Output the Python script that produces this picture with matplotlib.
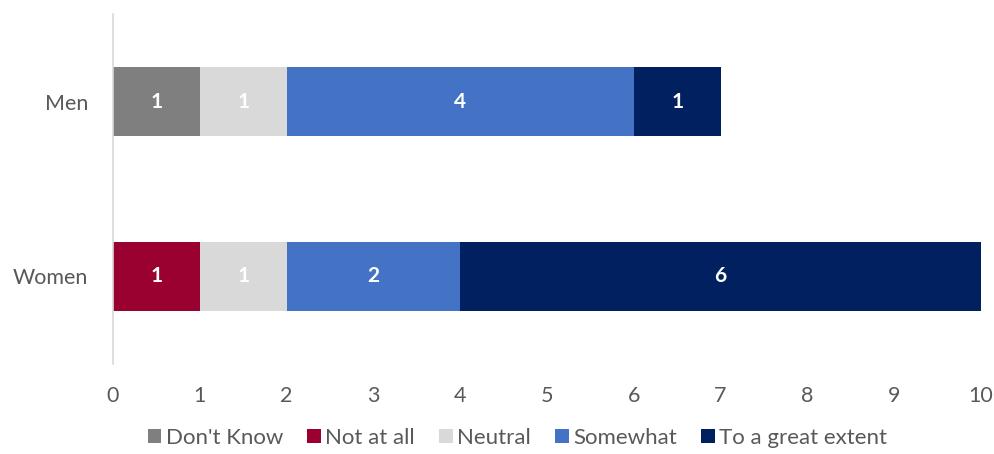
import matplotlib
matplotlib.use("Agg")
import matplotlib.pyplot as plt
import numpy as np

plt.rcParams['font.family'] = ['Lato', 'DejaVu Sans']

categories = ["Men", "Women"]
series = ["Don't Know", "Not at all", "Neutral", "Somewhat", "To a great extent"]
values = {
    "Don't Know": [1, 0],
    "Not at all": [0, 1],
    "Neutral": [1, 1],
    "Somewhat": [4, 2],
    "To a great extent": [1, 6],
}
colors = {
    "Don't Know": "#7F7F7F",
    "Not at all": "#9A0030",
    "Neutral": "#D9D9D9",
    "Somewhat": "#4472C4",
    "To a great extent": "#002060",
}
xticks = list(range(0, 11))

fig = plt.figure(figsize=(9.95, 4.54), dpi=100)
ax = fig.add_axes([113/995, 1-364/454, (981-113)/995, (364-14)/454])

y = np.arange(len(categories))
left = np.zeros(len(categories))
for s in series:
    v = np.array(values[s], dtype=float)
    ax.barh(y, v, left=left, height=0.394, color=colors[s], label=s, zorder=2)
    for i, val in enumerate(v):
        if val > 0:
            ax.text(left[i] + val/2, y[i], f"{int(val)}", ha='center', va='center',
                    color='white', fontsize=15, fontweight='bold', zorder=3)
    left += v

ax.set_ylim(1.5, -0.5)
ax.set_xlim(0, 10)
ax.set_yticks(y)
ax.set_yticklabels(categories)
ax.set_xticks(xticks)
ax.tick_params(axis='both', length=0, labelsize=15.5, colors='#595959')
ax.tick_params(axis='x', pad=16)
ax.tick_params(axis='y', pad=18)
for sp in ['top', 'right', 'bottom']:
    ax.spines[sp].set_visible(False)
ax.spines['left'].set_color('#D9D9D9')
ax.spines['left'].set_linewidth(1.2)

fig.legend(loc='lower center', bbox_to_anchor=(0.52, -0.03), ncol=5, frameon=False,
           fontsize=16, handlelength=0.6, handleheight=0.6, handletextpad=0.2,
           columnspacing=1.1, labelcolor='#595959')

fig.savefig("out.png", dpi=100)
